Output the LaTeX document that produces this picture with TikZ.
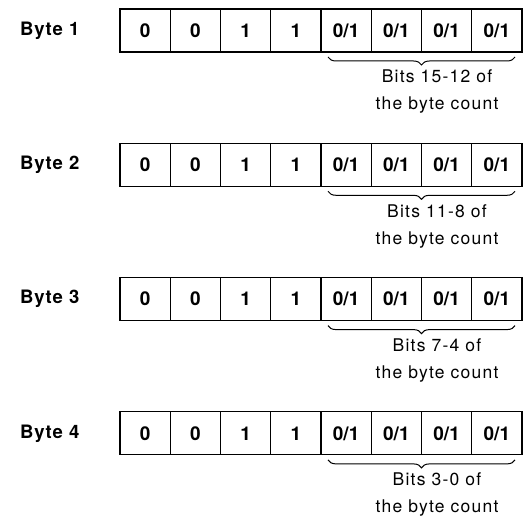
\documentclass[tikz,border=0pt]{standalone}
\usepackage{fontspec}
\setmainfont{TeX Gyre Heros}
\usetikzlibrary{decorations.pathreplacing}

\tikzset{
    cellbox/.style={draw, line width=1.1pt, minimum width=50.25pt, minimum height=43pt,
        inner sep=0pt, outer sep=0pt, anchor=west,
        font=\fontsize{19}{22}\selectfont\bfseries},
    bytelabel/.style={anchor=west, inner sep=0pt,
        font=\fontsize{18.5}{22}\selectfont\bfseries\addfontfeature{LetterSpace=5}},
    countnote/.style={align=center, inner sep=0pt,
        font=\fontsize{17.5}{27}\selectfont\addfontfeature{LetterSpace=7}},
    countbrace/.style={decorate, decoration={brace, mirror, amplitude=8pt}, line width=1pt}
}

\begin{document}
\begin{tikzpicture}[x=1pt, y=-1pt]
    \useasboundingbox (0,0) rectangle (525,521);

    \foreach \r/\hi/\lo in {1/15/12, 2/11/8, 3/7/4, 4/3/0} {
        \pgfmathsetmacro{\y}{30.5+134.3*(\r-1)}

        % Byte label
        \node[bytelabel] (byte\r) at (20,\y) {Byte \r};

        % Fixed high nibble
        \foreach \c/\v in {1/0, 2/0, 3/1, 4/1} {
            \node[cellbox] (cell\r-\c) at (120+50.25*\c-50.25,\y) {\v};
        }
        % Count nibble
        \foreach \c in {5,...,8} {
            \node[cellbox] (cell\r-\c) at (120+50.25*\c-50.25,\y) {0/1};
        }

        % Brace and note
        \draw[countbrace] ([xshift=7pt,yshift=-5pt]cell\r-5.south west)
            -- ([xshift=-7pt,yshift=-5pt]cell\r-8.south east);
        \node[countnote] (note\r) at (437,\y+61.5) {Bits \hi-\lo\ of\\the byte count};
    }
\end{tikzpicture}
\end{document}
